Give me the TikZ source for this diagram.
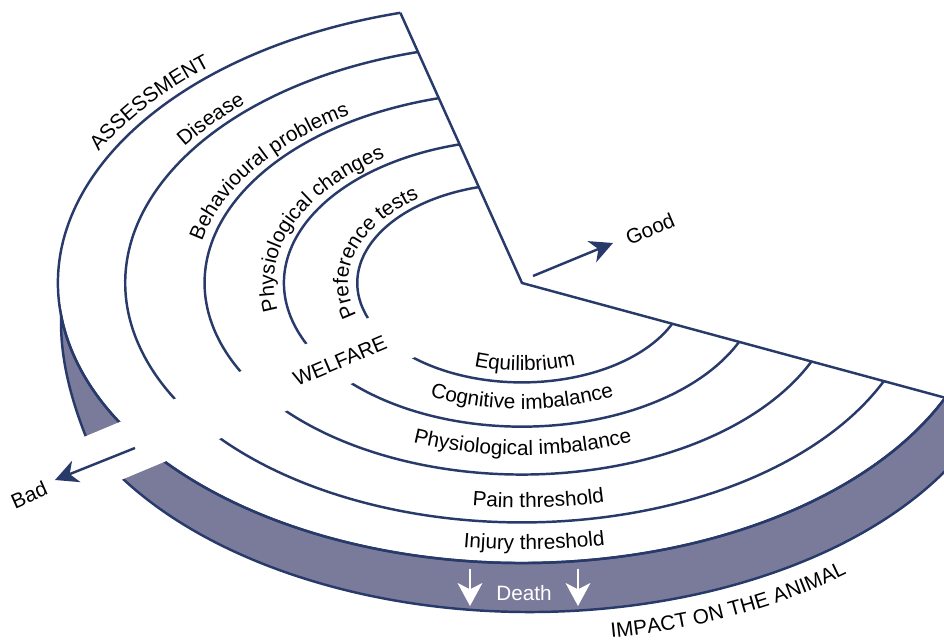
\documentclass[tikz,border=0pt]{standalone}
\usepackage{fontspec}
\setmainfont{Liberation Sans}
\usepackage{tikz}
\usetikzlibrary{arrows.meta,calc,decorations.text}
\definecolor{navy}{RGB}{40,58,106}
\definecolor{slab}{RGB}{122,123,155}
\newcommand\labfont{\fontsize{11.8}{14}\selectfont}

\begin{document}
\begin{tikzpicture}[x=0.02cm, y=0.02cm, every node/.style={font=\labfont}]
	\useasboundingbox (0,0) rectangle (944,642);
	\coordinate (apex) at (522,359);
	\coordinate (slabc) at (530,320);
	\coordinate (upper) at ($(apex)+({464*cos(105.2)},{280*sin(105.2)})$);
	\coordinate (lower) at ($(apex)+({464*cos(335.8)},{280*sin(335.8)})$);
	\coordinate (tip) at ($(apex)+({464*cos(186.6)},{280*sin(186.6)})$);
	\filldraw[fill=slab, draw=navy, line width=1.4pt] (tip)
		arc[start angle=186.6, end angle=340, x radius=464, y radius=280]
		-- ($(slabc)+({484*cos(332.6)},{290*sin(332.6)})$)
		arc[start angle=332.6, end angle=203.6, x radius=484, y radius=290]
		.. controls (68,250) and (60,290) .. (tip) -- cycle;
	\foreach \s in {1,0.855,0.684,0.513,0.355} {
		\draw[navy, line width=1.4pt] ($(apex)+({464*\s*cos(105.2)},{280*\s*sin(105.2)})$)
			arc[start angle=105.2, end angle=335.8, x radius=464*\s, y radius=280*\s];
	}
	\draw[navy, line width=1.4pt, line join=miter] (upper) -- (apex) -- (lower);
	\fill[white, shift={(apex)}, rotate=202.7] (85,-27) rectangle (560,27);
	\foreach \s/\ang/\d/\lab in {1.025/145/30/ASSESSMENT, 0.875/143/30/Disease, 0.705/148/38/Behavioural problems, 0.535/159/45/Physiological changes, 0.375/164/50/Preference tests} {
		\path[decorate, decoration={text along path, text align=center, text/.expanded={|\noexpand\labfont|\lab}}]
			($(apex)+({464*\s*cos(\ang+\d)},{280*\s*sin(\ang+\d)})$)
			arc[start angle=\ang+\d, end angle=\ang-\d, x radius=464*\s, y radius=280*\s];
	}
	\foreach \s/\ang/\lab in {0.314/271.5/Equilibrium, 0.45/270/Cognitive imbalance, 0.615/270.2/Physiological imbalance, 0.803/273.2/Pain threshold, 0.952/272/Injury threshold} {
		\path[decorate, decoration={text along path, text align=center, text/.expanded={|\noexpand\labfont|\lab}}]
			($(apex)+({464*\s*cos(\ang-50)},{280*\s*sin(\ang-50)})$)
			arc[start angle=\ang-50, end angle=\ang+50, x radius=464*\s, y radius=280*\s];
	}
	\path[decorate, decoration={text along path, text align=center, text={|\labfont|IMPACT ON THE ANIMAL}}]
		($(slabc)+({514*cos(269.5)},{320*sin(269.5)})$)
		arc[start angle=269.5, end angle=319.5, x radius=514, y radius=320];
	\node[rotate=23] (welfare) at (340,281) {WELFARE};
	\coordinate (goodfrom) at (533,366);
	\coordinate (goodto) at (613,399);
	\coordinate (badfrom) at (135,194);
	\coordinate (badto) at (55,162);
	\draw[navy, line width=1.4pt, -{Stealth[length=13pt, width=13pt, inset=4pt]}] (goodfrom) -- (goodto);
	\draw[navy, line width=1.4pt, -{Stealth[length=13pt, width=13pt, inset=4pt]}] (badfrom) -- (badto);
	\node[rotate=23] (good) at (650,413) {Good};
	\node[rotate=24] (bad) at (29,147) {Bad};
	\node[text=white] (death) at (524,49) {Death};
	\foreach \x [count=\i] in {470,578} {
		\coordinate (dtop\i) at (\x,73);
		\coordinate (dbot\i) at (\x,36);
		\draw[white, line width=1.4pt, -{Stealth[length=13pt, width=14pt, inset=3.5pt]}] (dtop\i) -- (dbot\i);
	}
\end{tikzpicture}
\end{document}
